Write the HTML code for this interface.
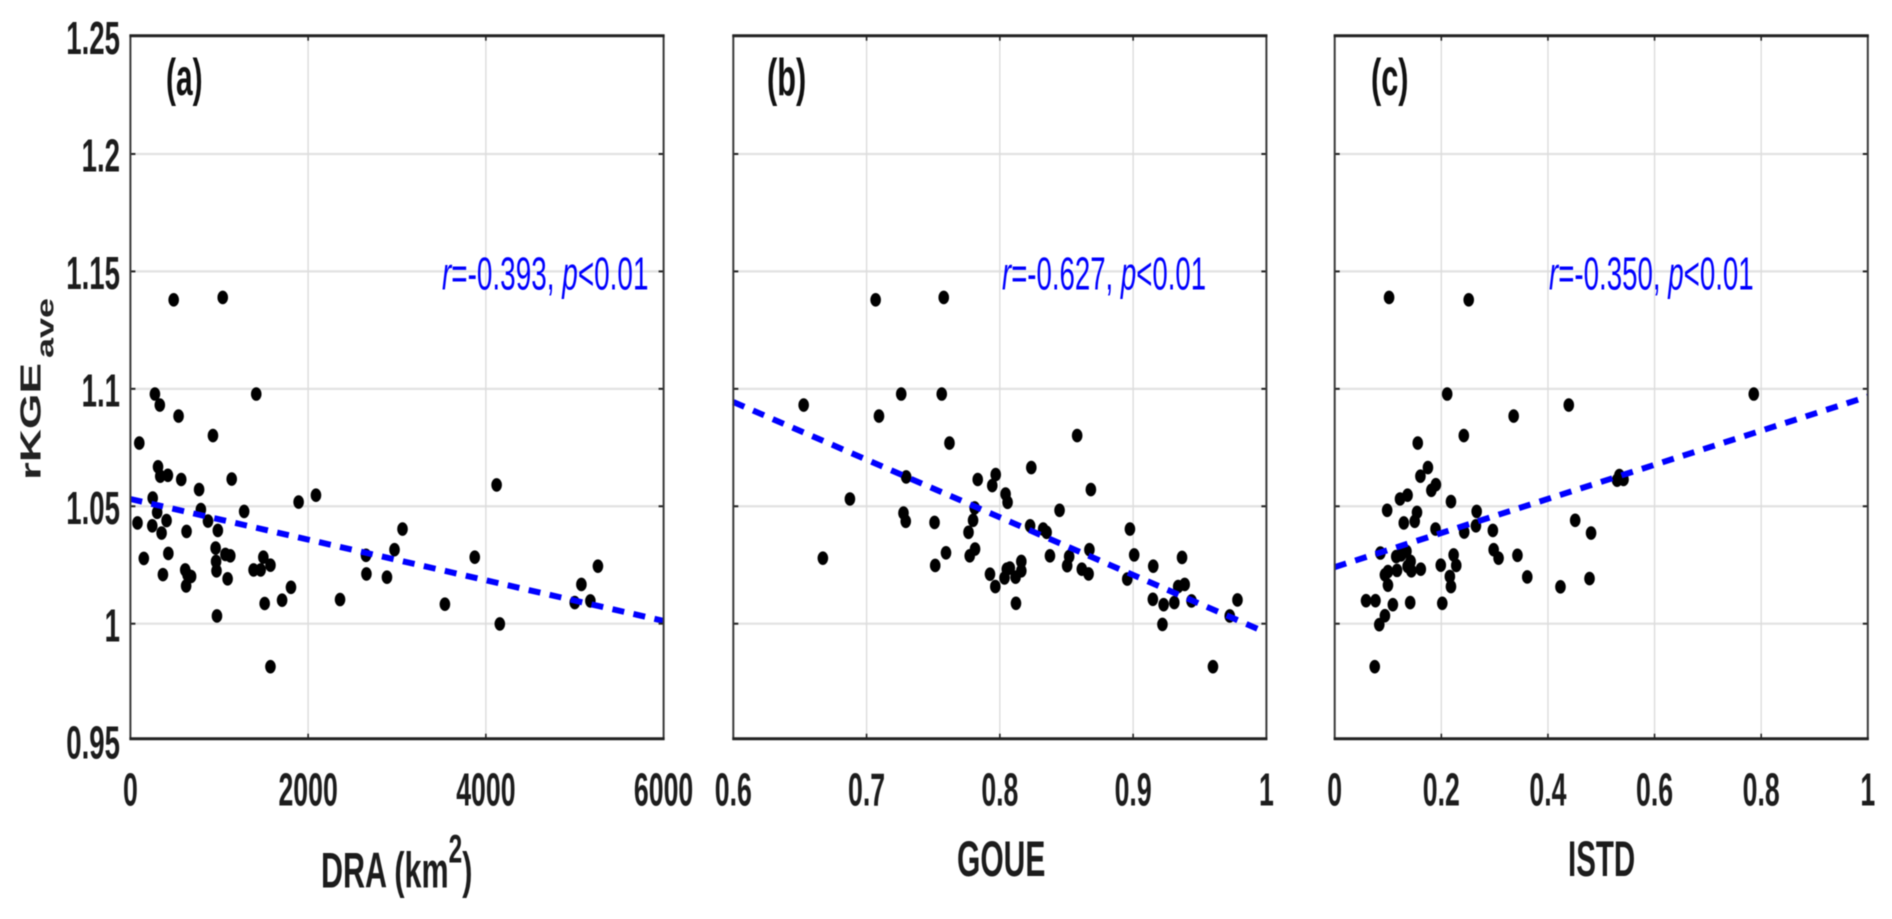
<!DOCTYPE html>
<html lang="en">
<head>
<meta charset="utf-8">
<title>rKGE scatter panels</title>
<style>
html,body{margin:0;padding:0;background:#fff;width:1892px;height:919px;overflow:hidden}
svg{display:block;filter:blur(.45px)}
text{font-family:"Liberation Sans",sans-serif}
.tick{font-size:46px;font-weight:700;fill:#1c1c1c}
.ax{font-size:50px;font-weight:700;fill:#1c1c1c}
.tag{font-size:52px;font-weight:700;fill:#111}
.note{font-size:46px;fill:#0000ff}
</style>
</head>
<body>
<svg id="chart" xmlns="http://www.w3.org/2000/svg" width="1892" height="919" viewBox="0 0 1892 919">
  <g id="grids"></g>
  <g id="marks"></g>
  <g id="frames"></g>
  <g id="ticklabels"></g>

  <g>
    <text class="ax" transform="translate(40.7,480) rotate(-90) scale(1.58,1)" style="font-size:29px;fill:#222">rKGE</text>
    <text class="ax" transform="translate(53.5,358) rotate(-90) scale(1.5,1)" style="font-size:24px;fill:#222">ave</text>
  </g>

  <text class="tag" transform="translate(166,95) scale(.575,1)">(a)</text>
  <text class="tag" transform="translate(767,95) scale(.59,1)">(b)</text>
  <text class="tag" transform="translate(1371,95) scale(.59,1)">(c)</text>

  <text class="note" transform="translate(442,289.3) scale(.607,1)"><tspan font-style="italic">r</tspan>=-0.393, <tspan font-style="italic">p</tspan>&lt;0.01</text>
  <text class="note" transform="translate(1002,289.3) scale(.6,1)"><tspan font-style="italic">r</tspan>=-0.627, <tspan font-style="italic">p</tspan>&lt;0.01</text>
  <text class="note" transform="translate(1549,289.3) scale(.602,1)"><tspan font-style="italic">r</tspan>=-0.350, <tspan font-style="italic">p</tspan>&lt;0.01</text>

  <text class="ax" transform="translate(321,887.7) scale(.61,1)">DRA (km<tspan font-size="40" dy="-25">2</tspan><tspan dy="25">)</tspan></text>
  <text class="ax" transform="translate(957,876) scale(.6,1)">GOUE</text>
  <text class="ax" transform="translate(1568,876) scale(.59,1)">ISTD</text>
</svg>

<script>
var yTicks = [1.25, 1.2, 1.15, 1.1, 1.05, 1, 0.95];
var yTickLabels = ['1.25', '1.2', '1.15', '1.1', '1.05', '1', '0.95'];

var xDomainA = [0, 6000];
var xTicksA = [0, 2000, 4000, 6000];
var xTickLabelsA = ['0', '2000', '4000', '6000'];
var draValues = [487,1039,1416,276,331,542,929,100,311,336,422,572,1140,773,251,2088,1893,4121,793,301,1280,80,246,407,351,632,873,984,3062,2972,3875,2651,2656,2887,427,151,366,959,964,969,1069,1124,1094,617,683,627,643,1386,1466,1496,1576,1807,1707,1511,2359,974,3539,4157,1576,5000,5075,5176,5261];
var kgeValuesA = [1.1379,1.1389,1.0978,1.0978,1.0931,1.0884,1.0801,1.0769,1.0668,1.0628,1.0632,1.0614,1.0616,1.0571,1.0535,1.0547,1.0518,1.0591,1.0486,1.0474,1.0478,1.0429,1.0417,1.0439,1.0386,1.0393,1.0437,1.0397,1.0403,1.0315,1.0283,1.0291,1.0212,1.0198,1.0299,1.0278,1.0209,1.0322,1.0265,1.0225,1.0295,1.0289,1.0191,1.0229,1.0201,1.0161,1.0208,1.0229,1.0229,1.0283,1.0249,1.0155,1.0100,1.0086,1.0103,1.0033,1.0083,0.9999,0.9817,1.0090,1.0167,1.0097,1.0245];
var trendXA = [0, 6000];
var trendYA = [1.0531, 1.0012];

var xDomainB = [0.6, 1];
var xTicksB = [0.6, 0.7, 0.8, 0.9, 1];
var xTickLabelsB = ['0.6', '0.7', '0.8', '0.9', '1'];
var goueValues = [0.7068,0.7579,0.7260,0.7564,0.6528,0.7093,0.8580,0.7622,0.8236,0.7297,0.7969,0.7834,0.7943,0.8683,0.6875,0.8043,0.8058,0.8448,0.7277,0.7294,0.7510,0.7811,0.7799,0.7765,0.8227,0.8325,0.8351,0.8976,0.7814,0.7774,0.7596,0.6672,0.7515,0.8376,0.8520,0.8505,0.8672,0.8615,0.8666,0.9008,0.9151,0.9367,0.8956,0.8161,0.8161,0.8075,0.8052,0.8035,0.8118,0.7926,0.7966,0.8121,0.9148,0.9229,0.9309,0.9338,0.9387,0.9438,0.9220,0.9725,0.9783,0.9599];
var kgeValuesB = [1.1379,1.1389,1.0978,1.0978,1.0931,1.0884,1.0801,1.0769,1.0665,1.0625,1.0635,1.0614,1.0588,1.0571,1.0531,1.0552,1.0517,1.0483,1.0471,1.0436,1.0431,1.0493,1.0440,1.0389,1.0417,1.0403,1.0389,1.0403,1.0318,1.0289,1.0302,1.0279,1.0248,1.0289,1.0286,1.0247,1.0315,1.0232,1.0212,1.0293,1.0245,1.0282,1.0190,1.0265,1.0225,1.0237,1.0232,1.0195,1.0198,1.0211,1.0158,1.0087,1.0104,1.0081,1.0090,1.0158,1.0167,1.0097,0.9997,1.0033,1.0101,0.9817];
var trendXB = [0.6, 0.9955];
var trendYB = [1.0944, 0.9973];

var xDomainC = [0, 1];
var xTicksC = [0, 0.2, 0.4, 0.6, 0.8, 1];
var xTickLabelsC = ['0', '0.2', '0.4', '0.6', '0.8', '1'];
var istdValues = [0.2514,0.1020,0.2110,0.7861,0.4391,0.3357,0.2422,0.1558,0.1749,0.1608,0.1898,0.1813,0.5340,0.5418,0.5297,0.2181,0.1367,0.1225,0.0984,0.2663,0.1544,0.1501,0.1296,0.1891,0.2649,0.2429,0.2967,0.4511,0.4809,0.0857,0.2982,0.3074,0.3428,0.2231,0.2280,0.1346,0.1246,0.1154,0.1424,0.1367,0.1438,0.1615,0.1990,0.1169,0.0999,0.0942,0.0999,0.2160,0.2181,0.3612,0.4235,0.4780,0.0588,0.0765,0.1091,0.1416,0.2018,0.0942,0.0836,0.0751];
var kgeValuesC = [1.1379,1.1389,1.0978,1.0978,1.0931,1.0884,1.0801,1.0769,1.0665,1.0628,1.0592,1.0568,1.0631,1.0614,1.0611,1.0520,1.0547,1.0531,1.0483,1.0478,1.0474,1.0436,1.0429,1.0403,1.0417,1.0390,1.0397,1.0440,1.0386,1.0301,1.0315,1.0279,1.0291,1.0293,1.0248,1.0308,1.0293,1.0286,1.0265,1.0244,1.0225,1.0232,1.0249,1.0227,1.0222,1.0208,1.0164,1.0201,1.0158,1.0199,1.0157,1.0192,1.0098,1.0098,1.0081,1.0090,1.0087,1.0034,0.9996,0.9817];
var trendXC = [0, 1];
var trendYC = [1.0241, 1.0967];

var NS = 'http://www.w3.org/2000/svg';
var FRAME_TOP = 35.7;
var FRAME_BOTTOM = 738.7;

function yScale(v) {
  return 623.7 - (v - 1) / 0.05 * 117.43;
}

function xScaleFor(domain, left, right) {
  return function (v) {
    return left + (v - domain[0]) / (domain[1] - domain[0]) * (right - left);
  };
}

function make(tag, attrs, parent) {
  var el = document.createElementNS(NS, tag);
  for (var k in attrs) { el.setAttribute(k, attrs[k]); }
  parent.appendChild(el);
  return el;
}

function drawPanel(id, left, right, domain, ticks, tickLabels, xs, ys, trendX, trendY, showY) {
  var grids = document.getElementById('grids');
  var marks = document.getElementById('marks');
  var frames = document.getElementById('frames');
  var labels = document.getElementById('ticklabels');
  var x = xScaleFor(domain, left, right);

  yTicks.forEach(function (t, i) {
    if (t === 1.25 || t === 0.95) { return; }
    var gy = yScale(t);
    var line = make('line', {x1: left, x2: right, y1: gy, y2: gy, stroke: '#e2e2e2', 'stroke-width': 2.2}, grids);
    
    
    var tl = make('line', {x1: left, x2: left + 5, y1: gy, y2: gy, stroke: '#222', 'stroke-width': 2}, frames);
    
    
    var tr = make('line', {x1: right - 5, x2: right, y1: gy, y2: gy, stroke: '#222', 'stroke-width': 2}, frames);
    
    
  });

  ticks.forEach(function (t, i) {
    var gx = x(t);
    if (i > 0 && i < ticks.length - 1) {
      var line = make('line', {x1: gx, x2: gx, y1: FRAME_TOP, y2: FRAME_BOTTOM, stroke: '#dcdcdc', 'stroke-width': 1.4}, grids);
      
      
      var tb = make('line', {x1: gx, x2: gx, y1: FRAME_BOTTOM - 5, y2: FRAME_BOTTOM, stroke: '#222', 'stroke-width': 1.6}, frames);
      
      
      var tt = make('line', {x1: gx, x2: gx, y1: FRAME_TOP, y2: FRAME_TOP + 5, stroke: '#222', 'stroke-width': 1.6}, frames);
      
      
    }
    var txt = make('text', {'class': 'tick', 'text-anchor': 'middle', transform: 'translate(' + gx + ',805.7) scale(.58,1)'}, labels);
    
    
    txt.textContent = tickLabels[i];
  });

  if (showY) {
    yTicks.forEach(function (t, i) {
      var txt = make('text', {'class': 'tick', 'text-anchor': 'end', transform: 'translate(120,' + (yScale(t) + 17.6) + ') scale(.6,1)'}, labels);
      
      
      txt.textContent = yTickLabels[i];
    });
  }

  xs.forEach(function (v, i) {
    var dot = make('ellipse', {cx: x(v), cy: yScale(ys[i]), rx: 5.3, ry: 6.8, fill: '#000'}, marks);
    
    
  });

  var trend = make('line', {x1: x(trendX[0]), y1: yScale(trendY[0]), x2: x(trendX[1]), y2: yScale(trendY[1]), stroke: '#0000ff', 'stroke-width': 6, 'stroke-dasharray': '12 9.5'}, marks);
  
  

  var box = make('rect', {x: left, y: FRAME_TOP, width: right - left, height: FRAME_BOTTOM - FRAME_TOP, fill: 'none', stroke: '#3a3a3a', 'stroke-width': 2}, frames);
  
  

  var topEdge = make('line', {x1: left - 1, x2: right + 1, y1: FRAME_TOP, y2: FRAME_TOP, stroke: '#222', 'stroke-width': 3}, frames);
  
  

  var bottomEdge = make('line', {x1: left - 1, x2: right + 1, y1: FRAME_BOTTOM, y2: FRAME_BOTTOM, stroke: '#222', 'stroke-width': 3}, frames);
  
  
}

drawPanel('a', 130.4, 663.6, xDomainA, xTicksA, xTickLabelsA, draValues, kgeValuesA, trendXA, trendYA, true);
drawPanel('b', 733.3, 1266.4, xDomainB, xTicksB, xTickLabelsB, goueValues, kgeValuesB, trendXB, trendYB, false);
drawPanel('c', 1334.7, 1867.8, xDomainC, xTicksC, xTickLabelsC, istdValues, kgeValuesC, trendXC, trendYC, false);
</script>
</body>
</html>
